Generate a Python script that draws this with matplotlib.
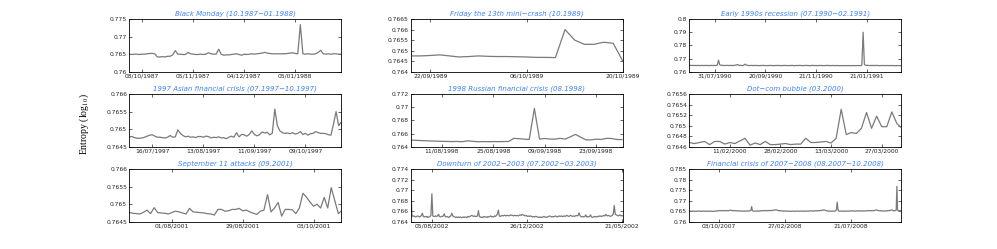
import matplotlib
matplotlib.use("Agg")
import matplotlib.pyplot as plt
from matplotlib.ticker import FixedLocator, FuncFormatter

# ---- data: entropy around each crisis ----

black_monday = [
    0.7650, 0.7649, 0.7650, 0.7650, 0.7649, 0.7650, 0.7650, 0.7651,
    0.7652, 0.7652, 0.7651, 0.7642, 0.7642, 0.7643, 0.7642, 0.7644,
    0.7644, 0.7648, 0.7660, 0.7650, 0.7650, 0.7649, 0.7649, 0.7655,
    0.7651, 0.7650, 0.7649, 0.7649, 0.7650, 0.7649, 0.7650, 0.7654,
    0.7651, 0.7650, 0.7650, 0.7664, 0.7650, 0.7647, 0.7648, 0.7648,
    0.7649, 0.7650, 0.7651, 0.7649, 0.7647, 0.7650, 0.7649, 0.7650,
    0.7651, 0.7650, 0.7651, 0.7652, 0.7653, 0.7655, 0.7653, 0.7652,
    0.7651, 0.7651, 0.7651, 0.7651, 0.7651, 0.7651, 0.7652, 0.7653,
    0.7654, 0.7652, 0.7651, 0.7734, 0.7651, 0.7650, 0.7651, 0.7650,
    0.7650, 0.7651, 0.7655, 0.7661, 0.7651, 0.7650, 0.7651, 0.7650,
    0.7651, 0.7651, 0.7650, 0.7650,
]

friday13 = [
    0.76475, 0.76475, 0.76477, 0.76480, 0.76475, 0.76470, 0.76472, 0.76475,
    0.76473, 0.76472, 0.76472, 0.76471, 0.76470, 0.76468, 0.76468, 0.76467,
    0.76600, 0.76550, 0.76530, 0.76530, 0.76540, 0.76535, 0.76450,
]

recession90 = [
    0.7649, 0.7648, 0.7648, 0.7647, 0.7648, 0.7647, 0.7647, 0.7648, 0.7647, 0.7647, 0.7648, 0.7647,
    0.7647, 0.7648, 0.7647, 0.7647, 0.7647, 0.7648, 0.7647, 0.7647, 0.7648, 0.7647, 0.7650, 0.7688,
    0.7652, 0.7649, 0.7648, 0.7648, 0.7647, 0.7648, 0.7648, 0.7647, 0.7647, 0.7648, 0.7647, 0.7648,
    0.7649, 0.7651, 0.7655, 0.7649, 0.7648, 0.7648, 0.7647, 0.7650, 0.7658, 0.7650, 0.7648, 0.7647,
    0.7647, 0.7648, 0.7647, 0.7647, 0.7648, 0.7647, 0.7647, 0.7646, 0.7647, 0.7647, 0.7648, 0.7647,
    0.7647, 0.7646, 0.7647, 0.7647, 0.7648, 0.7647, 0.7646, 0.7647, 0.7647, 0.7647, 0.7648, 0.7647,
    0.7646, 0.7647, 0.7647, 0.7648, 0.7647, 0.7647, 0.7646, 0.7647, 0.7647, 0.7648, 0.7647, 0.7646,
    0.7647, 0.7647, 0.7647, 0.7648, 0.7647, 0.7646, 0.7647, 0.7647, 0.7648, 0.7647, 0.7647, 0.7646,
    0.7647, 0.7648, 0.7647, 0.7647, 0.7647, 0.7646, 0.7647, 0.7648, 0.7647, 0.7647, 0.7646, 0.7647,
    0.7647, 0.7648, 0.7647, 0.7646, 0.7647, 0.7647, 0.7647, 0.7646, 0.7647, 0.7647, 0.7646, 0.7646,
    0.7647, 0.7646, 0.7646, 0.7647, 0.7646, 0.7646, 0.7647, 0.7646, 0.7646, 0.7647, 0.7646, 0.7646,
    0.7646, 0.7647, 0.7646, 0.7647, 0.7650, 0.7900, 0.7655, 0.7649, 0.7648, 0.7648, 0.7647, 0.7647,
    0.7648, 0.7647, 0.7647, 0.7648, 0.7647, 0.7647, 0.7646, 0.7647, 0.7647, 0.7647, 0.7646, 0.7647,
    0.7647, 0.7646, 0.7647, 0.7647, 0.7646, 0.7647, 0.7646, 0.7646, 0.7647, 0.7646, 0.7646, 0.7646,
]

asian97 = [
    0.76478, 0.76479, 0.76476, 0.76474, 0.76474, 0.76475, 0.76477, 0.76480,
    0.76483, 0.76484, 0.76480, 0.76477, 0.76477, 0.76476, 0.76475, 0.76477,
    0.76482, 0.76477, 0.76478, 0.76498, 0.76488, 0.76482, 0.76478, 0.76480,
    0.76477, 0.76478, 0.76476, 0.76479, 0.76479, 0.76477, 0.76480, 0.76479,
    0.76475, 0.76477, 0.76476, 0.76478, 0.76475, 0.76476, 0.76473, 0.76477,
    0.76480, 0.76477, 0.76490, 0.76478, 0.76485, 0.76484, 0.76480, 0.76485,
    0.76495, 0.76485, 0.76481, 0.76484, 0.76492, 0.76489, 0.76491, 0.76484,
    0.76488, 0.76557, 0.76510, 0.76495, 0.76490, 0.76488, 0.76489, 0.76487,
    0.76490, 0.76486, 0.76488, 0.76493, 0.76485, 0.76488, 0.76483, 0.76487,
    0.76488, 0.76493, 0.76490, 0.76488, 0.76488, 0.76487, 0.76484, 0.76483,
    0.76515, 0.76550, 0.76510, 0.76520,
]

russian98 = [
    0.76500, 0.76497, 0.76493, 0.76490, 0.76486, 0.76484, 0.76482, 0.76480,
    0.76478, 0.76480, 0.76476, 0.76490, 0.76482, 0.76476, 0.76478, 0.76476,
    0.76478, 0.76477, 0.76478, 0.76480, 0.76527, 0.76522, 0.76515, 0.76510,
    0.76982, 0.76516, 0.76525, 0.76516, 0.76515, 0.76527, 0.76516, 0.76550,
    0.76587, 0.76545, 0.76505, 0.76503, 0.76515, 0.76510, 0.76527, 0.76525,
    0.76510, 0.76508,
]

dotcom = [
    0.76468, 0.76466, 0.76468, 0.76470, 0.76464, 0.76470, 0.76470, 0.76465,
    0.76468, 0.76466, 0.76471, 0.76476, 0.76463, 0.76467, 0.76464, 0.76470,
    0.76464, 0.76464, 0.76465, 0.76466, 0.76464, 0.76465, 0.76465, 0.76476,
    0.76468, 0.76468, 0.76469, 0.76470, 0.76467, 0.76476, 0.76531, 0.76483,
    0.76487, 0.76485, 0.76495, 0.76525, 0.76495, 0.76518, 0.76498, 0.76498,
    0.76526, 0.76504, 0.76495,
]

sept11 = [
    0.76476, 0.76474, 0.76473, 0.76472, 0.76477, 0.76483, 0.76473, 0.76490,
    0.76476, 0.76475, 0.76474, 0.76472, 0.76476, 0.76480, 0.76478, 0.76475,
    0.76472, 0.76488, 0.76478, 0.76477, 0.76476, 0.76475, 0.76473, 0.76472,
    0.76469, 0.76485, 0.76485, 0.76480, 0.76481, 0.76485, 0.76485, 0.76488,
    0.76481, 0.76483, 0.76478, 0.76474, 0.76471, 0.76480, 0.76483, 0.76527,
    0.76478, 0.76489, 0.76505, 0.76466, 0.76485, 0.76485, 0.76484, 0.76473,
    0.76489, 0.76531, 0.76520, 0.76506, 0.76494, 0.76500, 0.76489, 0.76519,
    0.76489, 0.76547, 0.76510, 0.76473, 0.76482,
]

downturn02 = [
    0.7701, 0.7652, 0.7650, 0.7651, 0.7650, 0.7649, 0.7650, 0.7651, 0.7650, 0.7649, 0.7650, 0.7652, 0.7656, 0.7650, 0.7649, 0.7650,
    0.7649, 0.7650, 0.7648, 0.7649, 0.7650, 0.7652, 0.7693, 0.7651, 0.7650, 0.7650, 0.7651, 0.7650, 0.7651, 0.7654, 0.7650, 0.7649,
    0.7650, 0.7650, 0.7651, 0.7655, 0.7650, 0.7649, 0.7650, 0.7649, 0.7648, 0.7650, 0.7651, 0.7656, 0.7651, 0.7650, 0.7649, 0.7648,
    0.7649, 0.7648, 0.7649, 0.7648, 0.7649, 0.7648, 0.7648, 0.7649, 0.7648, 0.7649, 0.7649, 0.7648, 0.7650, 0.7649, 0.7650, 0.7651,
    0.7652, 0.7651, 0.7650, 0.7651, 0.7650, 0.7650, 0.7651, 0.7661, 0.7650, 0.7649, 0.7648, 0.7649, 0.7648, 0.7650, 0.7649, 0.7649,
    0.7648, 0.7650, 0.7649, 0.7650, 0.7651, 0.7649, 0.7650, 0.7649, 0.7651, 0.7650, 0.7652, 0.7655, 0.7662, 0.7651, 0.7650, 0.7651,
    0.7652, 0.7651, 0.7652, 0.7652, 0.7651, 0.7652, 0.7652, 0.7651, 0.7652, 0.7653, 0.7652, 0.7652, 0.7651, 0.7652, 0.7652, 0.7651,
    0.7652, 0.7651, 0.7652, 0.7653, 0.7652, 0.7654, 0.7653, 0.7652, 0.7651, 0.7652, 0.7651, 0.7650, 0.7651, 0.7650, 0.7651, 0.7650,
    0.7649, 0.7650, 0.7649, 0.7650, 0.7650, 0.7649, 0.7648, 0.7649, 0.7648, 0.7649, 0.7648, 0.7649, 0.7650, 0.7649, 0.7648, 0.7649,
    0.7649, 0.7650, 0.7651, 0.7650, 0.7649, 0.7650, 0.7649, 0.7650, 0.7651, 0.7650, 0.7649, 0.7650, 0.7651, 0.7650, 0.7651, 0.7650,
    0.7650, 0.7651, 0.7650, 0.7651, 0.7652, 0.7651, 0.7650, 0.7651, 0.7652, 0.7651, 0.7650, 0.7651, 0.7650, 0.7651, 0.7652, 0.7651,
    0.7652, 0.7657, 0.7651, 0.7650, 0.7649, 0.7650, 0.7649, 0.7650, 0.7653, 0.7649, 0.7650, 0.7649, 0.7650, 0.7653, 0.7649, 0.7648,
    0.7649, 0.7650, 0.7649, 0.7650, 0.7649, 0.7650, 0.7651, 0.7650, 0.7651, 0.7650, 0.7651, 0.7652, 0.7651, 0.7654, 0.7652, 0.7651,
    0.7652, 0.7651, 0.7650, 0.7651, 0.7652, 0.7655, 0.7671, 0.7654, 0.7653, 0.7652, 0.7651, 0.7652, 0.7653, 0.7651, 0.7652, 0.7651,
]

crisis0708 = [
    0.7650, 0.7651, 0.7650, 0.7649, 0.7650, 0.7650, 0.7651, 0.7650, 0.7649, 0.7650, 0.7650, 0.7649, 0.7650, 0.7651, 0.7650, 0.7650,
    0.7649, 0.7650, 0.7650, 0.7649, 0.7650, 0.7651, 0.7650, 0.7649, 0.7650, 0.7650, 0.7649, 0.7650, 0.7650, 0.7651, 0.7650, 0.7650,
    0.7649, 0.7650, 0.7650, 0.7649, 0.7649, 0.7650, 0.7650, 0.7651, 0.7650, 0.7650, 0.7651, 0.7652, 0.7652, 0.7653, 0.7652, 0.7652,
    0.7653, 0.7652, 0.7652, 0.7653, 0.7652, 0.7653, 0.7652, 0.7652, 0.7653, 0.7652, 0.7653, 0.7652, 0.7653, 0.7654, 0.7655, 0.7654,
    0.7653, 0.7652, 0.7653, 0.7652, 0.7652, 0.7653, 0.7652, 0.7651, 0.7652, 0.7652, 0.7651, 0.7652, 0.7651, 0.7650, 0.7651, 0.7650,
    0.7651, 0.7650, 0.7650, 0.7651, 0.7650, 0.7650, 0.7651, 0.7650, 0.7651, 0.7650, 0.7651, 0.7652, 0.7652, 0.7655, 0.7672, 0.7653,
    0.7651, 0.7650, 0.7651, 0.7650, 0.7650, 0.7651, 0.7650, 0.7651, 0.7650, 0.7650, 0.7651, 0.7652, 0.7651, 0.7652, 0.7653, 0.7652,
    0.7653, 0.7652, 0.7653, 0.7652, 0.7653, 0.7652, 0.7653, 0.7652, 0.7653, 0.7654, 0.7653, 0.7652, 0.7653, 0.7654, 0.7655, 0.7654,
    0.7655, 0.7656, 0.7655, 0.7657, 0.7655, 0.7654, 0.7653, 0.7652, 0.7653, 0.7652, 0.7651, 0.7652, 0.7651, 0.7650, 0.7651, 0.7650,
    0.7650, 0.7651, 0.7650, 0.7650, 0.7651, 0.7650, 0.7650, 0.7649, 0.7650, 0.7650, 0.7649, 0.7650, 0.7651, 0.7650, 0.7650, 0.7649,
    0.7650, 0.7650, 0.7651, 0.7650, 0.7650, 0.7649, 0.7650, 0.7650, 0.7651, 0.7650, 0.7650, 0.7651, 0.7650, 0.7650, 0.7649, 0.7650,
    0.7650, 0.7651, 0.7650, 0.7650, 0.7651, 0.7650, 0.7651, 0.7652, 0.7651, 0.7652, 0.7651, 0.7650, 0.7651, 0.7652, 0.7651, 0.7652,
    0.7652, 0.7651, 0.7652, 0.7653, 0.7652, 0.7653, 0.7654, 0.7653, 0.7654, 0.7655, 0.7654, 0.7656, 0.7655, 0.7654, 0.7653, 0.7652,
    0.7651, 0.7650, 0.7651, 0.7650, 0.7650, 0.7651, 0.7650, 0.7650, 0.7651, 0.7650, 0.7651, 0.7650, 0.7651, 0.7652, 0.7660, 0.7693,
    0.7660, 0.7651, 0.7650, 0.7650, 0.7651, 0.7650, 0.7650, 0.7651, 0.7650, 0.7650, 0.7649, 0.7650, 0.7650, 0.7651, 0.7650, 0.7650,
    0.7651, 0.7650, 0.7650, 0.7651, 0.7652, 0.7651, 0.7651, 0.7652, 0.7651, 0.7650, 0.7651, 0.7650, 0.7651, 0.7652, 0.7651, 0.7651,
    0.7652, 0.7651, 0.7651, 0.7652, 0.7651, 0.7650, 0.7651, 0.7652, 0.7651, 0.7651, 0.7652, 0.7651, 0.7652, 0.7653, 0.7652, 0.7652,
    0.7653, 0.7652, 0.7653, 0.7652, 0.7652, 0.7653, 0.7652, 0.7653, 0.7654, 0.7655, 0.7656, 0.7655, 0.7654, 0.7653, 0.7652, 0.7652,
    0.7651, 0.7652, 0.7651, 0.7651, 0.7652, 0.7651, 0.7650, 0.7651, 0.7651, 0.7652, 0.7651, 0.7652, 0.7653, 0.7652, 0.7653, 0.7654,
    0.7655, 0.7656, 0.7655, 0.7653, 0.7652, 0.7653, 0.7652, 0.7653, 0.7655, 0.7768, 0.7658, 0.7652, 0.7653, 0.7652, 0.7652, 0.7653,
    0.7652,
]

titles = [
    "Black Monday (10.1987\u221201.1988)",
    "Friday the 13th mini\u2212crash (10.1989)",
    "Early 1990s recession (07.1990\u221202.1991)",
    "1997 Asian financial crisis (07.1997\u221210.1997)",
    "1998 Russian financial crisis (08.1998)",
    "Dot\u2212com bubble (03.2000)",
    "September 11 attacks (09.2001)",
    "Downturn of 2002\u22122003 (07.2002\u221203.2003)",
    "Financial crisis of 2007\u22122008 (08.2007\u221210.2008)",
]

# x tick positions (trading-day index) and their date labels
xtick_pos = [
    [5, 25, 45, 65],
    [2, 12, 22],
    [20, 60, 100, 140],
    [9, 29, 49, 69],
    [6, 16, 26, 36],
    [8, 18, 28, 38],
    [12, 32, 52],
    [22, 122, 222],
    [44, 144, 244],
]
xtick_lab = [
    ["08/10/1987", "05/11/1987", "04/12/1987", "05/01/1988"],
    ["22/09/1989", "06/10/1989", "20/10/1989"],
    ["31/07/1990", "20/09/1990", "21/11/1990", "21/01/1991"],
    ["16/07/1997", "13/08/1997", "11/09/1997", "09/10/1997"],
    ["11/08/1998", "25/08/1998", "09/09/1998", "23/09/1998"],
    ["11/02/2000", "28/02/2000", "13/03/2000", "27/03/2000"],
    ["01/08/2001", "29/08/2001", "03/10/2001"],
    ["05/08/2002", "26/12/2002", "21/05/2002"],
    ["03/10/2007", "27/02/2008", "21/07/2008"],
]
xmax = [83, 22, 167, 83, 41.2, 41.85, 59.8, 223, 319.5]

yticks = [
    [0.76, 0.765, 0.77, 0.775],
    [0.764, 0.7645, 0.765, 0.7655, 0.766, 0.7665],
    [0.76, 0.77, 0.78, 0.79, 0.8],
    [0.7645, 0.765, 0.7655, 0.766],
    [0.764, 0.766, 0.768, 0.77, 0.772],
    [0.7646, 0.7648, 0.765, 0.7652, 0.7654, 0.7656],
    [0.7645, 0.765, 0.7655, 0.766],
    [0.764, 0.766, 0.768, 0.77, 0.772, 0.774],
    [0.76, 0.765, 0.77, 0.775, 0.78, 0.785],
]

series = [black_monday, friday13, recession90, asian97, russian98,
          dotcom, sept11, downturn02, crisis0708]

# ---- figure ----
plt.rcParams['mathtext.fontset'] = 'stix'
fig = plt.figure(figsize=(9.97, 2.49), dpi=100)

lefts = [0.1297, 0.4122, 0.6914]
bottoms = [0.712, 0.4108, 0.1096]
w, h = 0.2125, 0.2115

fmt = FuncFormatter(lambda v, p: "%g" % round(v, 6))

for i, ys in enumerate(series):
    r, c = divmod(i, 3)
    ax = fig.add_axes([lefts[c], bottoms[r], w, h])
    ax.plot(range(len(ys)), ys, color='#7a7a7a', lw=0.9)
    ax.set_xlim(0, xmax[i])
    ax.set_ylim(yticks[i][0], yticks[i][-1])
    ax.yaxis.set_major_locator(FixedLocator(yticks[i]))
    ax.yaxis.set_major_formatter(fmt)
    ax.set_xticks(xtick_pos[i])
    ax.set_xticklabels(xtick_lab[i])
    ax.tick_params(direction='in', length=2, width=0.5, top=True, right=True,
                   labelsize=4.3, colors='#222222', pad=1.5)
    for s in ax.spines.values():
        s.set_linewidth(0.6)
    ax.set_title(titles[i], fontsize=5, style='italic', color='#3d82f5', pad=2.5)

fig.text(0.0848, 0.502, r'Entropy (log$_{10}$)', rotation=90, ha='center', va='center',
         fontsize=7, family='Liberation Serif')

fig.savefig('out.png', dpi=100)
